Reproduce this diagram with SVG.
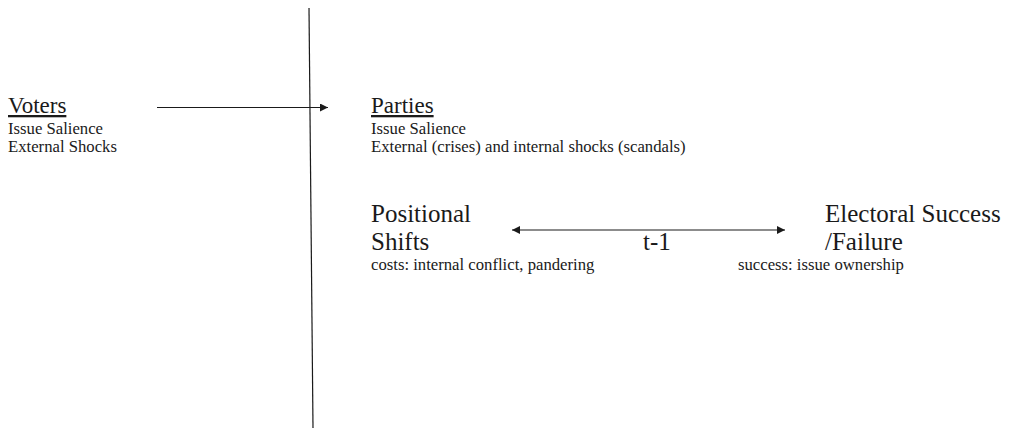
<svg xmlns="http://www.w3.org/2000/svg" width="1010" height="428" viewBox="0 0 1010 428">
<style>
text{font-family:'Liberation Serif','DejaVu Serif',serif;fill:#1a1a1a}
.h{font-size:23px;text-decoration:underline}
.s{font-size:16.7px}
.b{font-size:25px}
.ln{stroke:#1a1a1a;stroke-width:1.2;fill:none}
</style>
<defs>
<marker id="ah" viewBox="0 0 10 10" refX="10" refY="5" markerWidth="10" markerHeight="8" markerUnits="userSpaceOnUse" orient="auto-start-reverse">
<path d="M0,0 L10,5 L0,10 z" fill="#1a1a1a"/>
</marker>
</defs>
<rect width="1010" height="428" fill="#fff"/>
<g id="connectors">
<line class="ln" x1="309" y1="8" x2="313" y2="428"/>
<line class="ln" x1="157" y1="107.5" x2="328" y2="107.5" marker-end="url(#ah)"/>
<line class="ln" x1="512" y1="230" x2="785" y2="230" marker-start="url(#ah)" marker-end="url(#ah)"/>
</g>
<g id="voters">
<text class="h" x="8" y="113">Voters</text>
<text class="s" x="8" y="134">Issue Salience</text>
<text class="s" x="8" y="152">External Shocks</text>
</g>
<g id="parties">
<text class="h" x="371" y="113">Parties</text>
<text class="s" x="371" y="134">Issue Salience</text>
<text class="s" x="371" y="152">External (crises) and internal shocks (scandals)</text>
</g>
<g id="positional">
<text class="b" x="371" y="222">Positional</text>
<text class="b" x="371" y="250">Shifts</text>
<text class="s" x="371" y="270">costs: internal conflict, pandering</text>
</g>
<g id="label-t1">
<text class="b" x="643" y="250">t-1</text>
</g>
<g id="electoral">
<text class="b" x="825" y="222">Electoral Success</text>
<text class="b" x="825" y="250">/Failure</text>
<text class="s" x="738" y="270">success: issue ownership</text>
</g>
</svg>
